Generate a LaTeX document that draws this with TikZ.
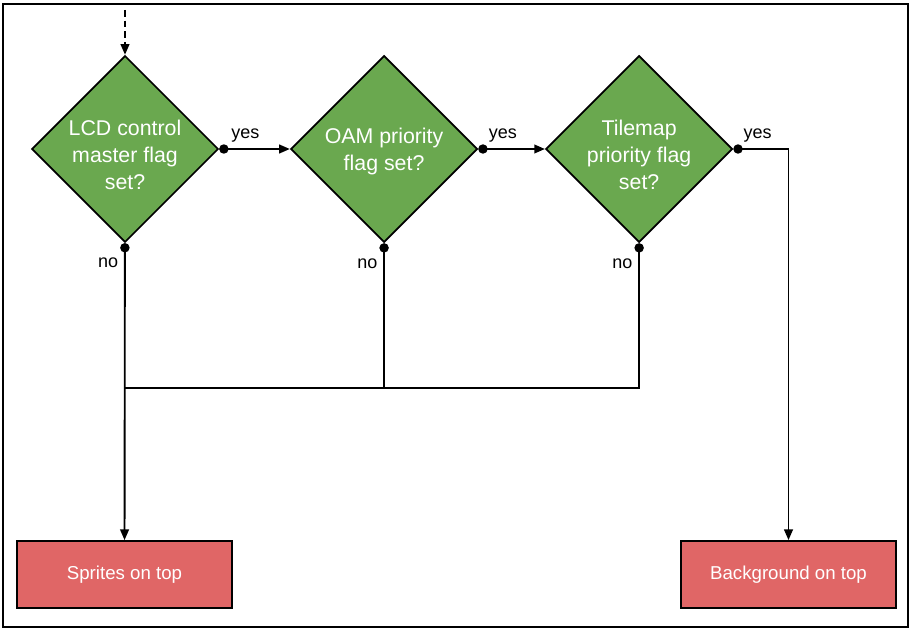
\documentclass[tikz,border=0pt]{standalone}
\usepackage{fontspec}
\setmainfont{Liberation Sans}
\usetikzlibrary{shapes.geometric, arrows.meta, positioning}
\definecolor{flaggreen}{RGB}{106,168,79}
\definecolor{resultred}{RGB}{224,102,102}

\begin{document}
\begin{tikzpicture}[
        x=0.75pt, y=-0.75pt,
        flag/.style={diamond, draw, line width=1.3pt, fill=flaggreen, text=white, aspect=1, inner sep=-8pt, minimum size=140pt, align=center, text depth=0pt, font=\fontsize{16}{20.25}\selectfont},
        twolines/.style={flag, text height=33pt},
        threelines/.style={flag, text height=61pt},
        result/.style={rectangle, draw, line width=1.3pt, fill=resultred, text=white, minimum width=161.25pt, minimum height=50.25pt, font=\fontsize{14}{17}\selectfont},
        flow/.style={line width=1.4pt, -{Triangle[length=8pt, width=6.5pt]}},
        branch/.style={line width=1.4pt, {Circle[length=7pt]}-{Triangle[length=8pt, width=6.5pt]}},
        merge/.style={line width=1.4pt, {Circle[length=7pt]}-},
        answer/.style={font=\fontsize{13.5}{16}\selectfont},
    ]

\useasboundingbox (0,0) rectangle (913,631);
\draw[line width=1.4pt] (3,4) rectangle (908,627);

\node[threelines] (LCDFlag) at (125,149) {LCD control\\master flag\\set?};
\node[twolines, right=53pt of LCDFlag] (OAMFlag) {OAM priority\\flag set?};
\node[threelines, right=50pt of OAMFlag] (TileFlag) {Tilemap\\priority flag\\set?};

\node[result] (SpritesTop) at (124.5,574.5) {Sprites on top};
\node[result] (BgTop) at (788.5,574.5) {Background on top};

\coordinate (entry) at (125,10);
\coordinate (join) at (125,388);

\draw[flow, dash pattern=on 5pt off 3pt] (entry) -- (LCDFlag);

\draw[branch] (LCDFlag) -- (OAMFlag) node[pos=0.37, above=1pt, answer] {yes};
\draw[branch] (OAMFlag) -- (TileFlag) node[pos=0.37, above=1pt, answer] {yes};
\draw[branch] (TileFlag) -| (BgTop) node[pos=0.22, above=1pt, answer] {yes};

\draw[branch] (LCDFlag) -- (SpritesTop) node[pos=0.065, left=1pt, answer] {no};
\draw[merge] (OAMFlag) |- (join) node[pos=0.07, left=1pt, answer] {no};
\draw[merge] (TileFlag) |- (join) node[pos=0.07, left=1pt, answer] {no};
\end{tikzpicture}
\end{document}
